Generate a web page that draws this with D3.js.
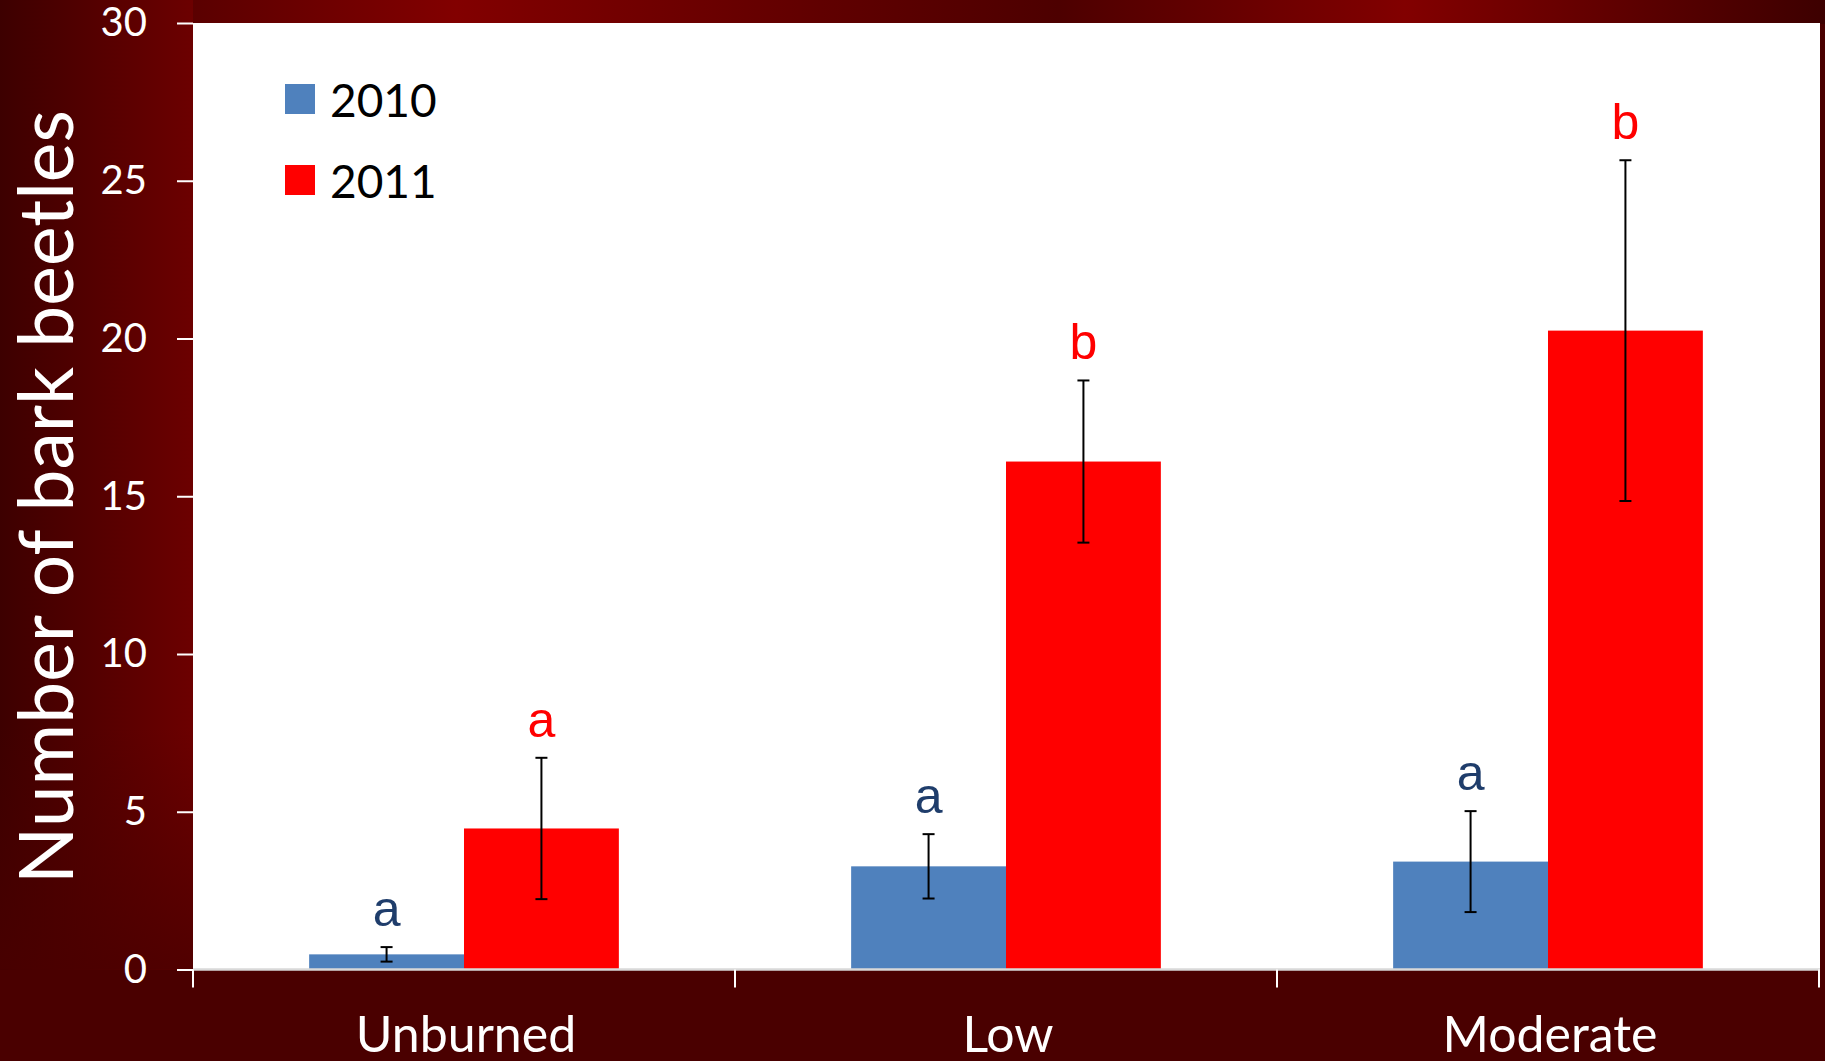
<!DOCTYPE html>
<html>
<head>
<meta charset="utf-8">
<script src="https://cdn.jsdelivr.net/npm/d3@7"></script>
<style>
  html, body { margin: 0; padding: 0; background: #4a0000; }
  svg { display: block; }
</style>
</head>
<body>
<svg id="chart" width="1825" height="1061"></svg>
<script>
const categories = ["Unburned", "Low", "Moderate"];
const series = ["2010", "2011"];
const values2010 = [0.48, 3.27, 3.42];
const values2011 = [4.47, 16.1, 20.25];
const errors2010 = [0.23, 1.02, 1.6];
const errors2011 = [2.24, 2.57, 5.4];
const letters2010 = ["a", "a", "a"];
const letters2011 = ["a", "b", "b"];
const yTicks = [0, 5, 10, 15, 20, 25, 30];
const yTitle = "Number of bark beetles";

const W = 1825, H = 1061;
const plot = { left: 193, right: 1820, top: 23, bottom: 969.5 };
const colors = { "2010": "#4F81BD", "2011": "#FF0000" };
const letterColors = { "2010": "#1F3D6B", "2011": "#FF0000" };

const svg = d3.select("#chart");
const defs = svg.append("defs");

// Background
const gTop = defs.append("linearGradient").attr("id", "gTop").attr("x1", "0").attr("x2", "1").attr("y1", "0").attr("y2", "0");
[[0, "#3d0000"], [0.25, "#820000"], [0.45, "#600000"], [0.58, "#4d0000"], [0.77, "#820000"], [1, "#3d0000"]]
  .forEach(([o, c]) => gTop.append("stop").attr("offset", o).attr("stop-color", c));
const gLeft = defs.append("linearGradient").attr("id", "gLeft").attr("x1", "0").attr("x2", "1").attr("y1", "0").attr("y2", "0");
[[0, "#3d0000"], [1, "#6c0000"]].forEach(([o, c]) => gLeft.append("stop").attr("offset", o).attr("stop-color", c));
const gLeftFade = defs.append("linearGradient").attr("id", "gLeftFade").attr("x1", "0").attr("x2", "0").attr("y1", "0").attr("y2", "1");
[[0, "#4a0000", 0], [0.75, "#4a0000", 0], [1, "#4a0000", 0.8]].forEach(([o, c, a]) => gLeftFade.append("stop").attr("offset", o).attr("stop-color", c).attr("stop-opacity", a));

svg.append("rect").attr("width", W).attr("height", H).attr("fill", "#4a0000");
svg.append("rect").attr("x", 0).attr("y", 0).attr("width", W).attr("height", plot.top + 1).attr("fill", "url(#gTop)");
svg.append("rect").attr("x", 0).attr("y", 0).attr("width", plot.left).attr("height", plot.bottom).attr("fill", "url(#gLeft)");
svg.append("rect").attr("x", 0).attr("y", 0).attr("width", plot.left).attr("height", plot.bottom).attr("fill", "url(#gLeftFade)");

// Plot area
svg.append("rect").attr("x", plot.left).attr("y", plot.top)
  .attr("width", plot.right - plot.left).attr("height", plot.bottom - plot.top).attr("fill", "#ffffff");

const x = d3.scaleBand().domain(categories).range([plot.left, 1819]).paddingInner(0).paddingOuter(0);
const xSub = d3.scaleBand().domain(series).range([0, x.bandwidth()]).paddingInner(0).paddingOuter(0.75);
const y = d3.scaleLinear().domain([0, 30]).range([plot.bottom, plot.top]);

const rows = [];
categories.forEach((c, i) => {
  rows.push({ cat: c, s: "2010", v: values2010[i], e: errors2010[i], l: letters2010[i] });
  rows.push({ cat: c, s: "2011", v: values2011[i], e: errors2011[i], l: letters2011[i] });
});

// Bars
svg.append("g").selectAll("rect").data(rows).join("rect")
  .attr("x", d => x(d.cat) + xSub(d.s))
  .attr("y", d => y(d.v))
  .attr("width", xSub.bandwidth())
  .attr("height", d => y(0) - y(d.v))
  .attr("fill", d => colors[d.s]);

// Error bars
const eg = svg.append("g").attr("stroke", "#000").attr("stroke-width", 2);
rows.forEach(d => {
  const cx = x(d.cat) + xSub(d.s) + xSub.bandwidth() / 2;
  eg.append("line").attr("x1", cx).attr("x2", cx).attr("y1", y(d.v + d.e)).attr("y2", y(d.v - d.e));
  eg.append("line").attr("x1", cx - 6).attr("x2", cx + 6).attr("y1", y(d.v + d.e)).attr("y2", y(d.v + d.e));
  eg.append("line").attr("x1", cx - 6).attr("x2", cx + 6).attr("y1", y(d.v - d.e)).attr("y2", y(d.v - d.e));
});

// Letters
svg.append("g").selectAll("text").data(rows).join("text")
  .attr("x", d => x(d.cat) + xSub(d.s) + xSub.bandwidth() / 2)
  .attr("y", d => y(d.v + d.e) - 21)
  .attr("text-anchor", "middle")
  .attr("font-family", "Liberation Sans, Arial, sans-serif")
  .attr("font-size", 50)
  .attr("fill", d => letterColors[d.s])
  .text(d => d.l);

// X axis line
svg.append("line").attr("x1", plot.left).attr("x2", plot.right).attr("y1", plot.bottom).attr("y2", plot.bottom)
  .attr("stroke", "#d9d9d9").attr("stroke-width", 2.5);

// X ticks at category boundaries
const bounds = categories.map(c => x(c)).concat([x(categories[categories.length - 1]) + x.bandwidth()]);
svg.append("g").selectAll("line").data(bounds).join("line")
  .attr("x1", d => d).attr("x2", d => d).attr("y1", plot.bottom).attr("y2", plot.bottom + 18)
  .attr("stroke", "#ffffff").attr("stroke-width", 2);

// X labels
svg.append("g").selectAll("text").data(categories).join("text")
  .attr("x", d => x(d) + x.bandwidth() / 2 + 2)
  .attr("y", 1052)
  .attr("text-anchor", "middle")
  .attr("font-family", "Lato, sans-serif")
  .attr("font-size", 50)
  .attr("fill", "#ffffff")
  .text(d => d);

// Y axis ticks & labels
const yAxis = d3.axisLeft(y).tickValues(yTicks).tickSize(16).tickSizeOuter(0).tickPadding(30);
const ya = svg.append("g").attr("transform", `translate(${plot.left},0)`).call(yAxis);
ya.select(".domain").remove();
ya.selectAll(".tick line").attr("stroke", "#ffffff").attr("stroke-width", 2);
ya.selectAll(".tick text").attr("fill", "#ffffff").attr("font-family", "Lato, sans-serif").attr("font-size", 40);

// Y title
svg.append("text")
  .attr("transform", `translate(73, 497) rotate(-90)`)
  .attr("text-anchor", "middle")
  .attr("font-family", "Lato, sans-serif")
  .attr("font-size", 75)
  .attr("fill", "#ffffff")
  .text(yTitle);

// Legend
const legend = svg.append("g");
series.forEach((s, i) => {
  const ly = 84 + i * 81;
  legend.append("rect").attr("x", 285).attr("y", ly).attr("width", 30).attr("height", 30).attr("fill", colors[s]);
  legend.append("text").attr("x", 330).attr("y", ly + 33)
    .attr("font-family", "Lato, sans-serif").attr("font-size", 46).attr("fill", "#000").text(s);
});
</script>
</body>
</html>
